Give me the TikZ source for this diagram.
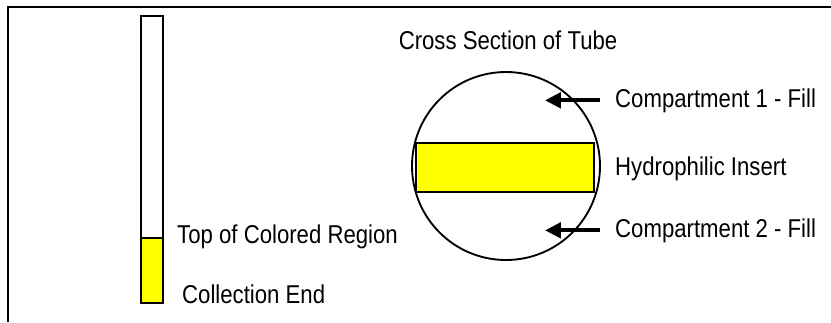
\documentclass[tikz,border=0pt]{standalone}
\usepackage{fontspec}
\setmainfont{Liberation Sans}[FakeStretch=0.86]
\usetikzlibrary{arrows.meta}
\definecolor{insertyellow}{RGB}{255,255,0}
\begin{document}
\begin{tikzpicture}[
                x=0.03cm, y=-0.03cm, % 1 unit = 1 px
                txt/.style={font=\fontsize{22}{25}\selectfont, inner ysep=0pt, inner xsep=0pt},
                pointer/.style={line width=3.2pt, -{Triangle[length=13.5pt,width=13pt]}},
            ]
            \useasboundingbox (0,0) rectangle (831,322);
            % frame
            \draw[line width=2pt] (8,322) -- (8,7) -- (831,7);
            % tube
            \fill[insertyellow] (141,238) rectangle (163,303);
            \draw[line width=2pt] (141,16) rectangle (163,303);
            \draw[line width=2pt] (141,238) -- (163,238);
            \node[txt, anchor=base west] (top) at (177,243) {Top of Colored Region};
            \node[txt, anchor=base west] (coll) at (182,303) {Collection End};
            % cross section
            \node[txt, anchor=base] (cross) at (508,49) {Cross Section of Tube};
            \draw[line width=1.6pt] (506,166) circle[radius=94];
            \draw[line width=1.6pt, fill=insertyellow] (416,143) rectangle (594,192);
            % labels and arrows
            \node[txt, anchor=base west, inner xsep=0.45cm] (comp1) at (600,107) {Compartment 1 - Fill};
            \node[txt, anchor=base west] (hydro) at (615,175) {Hydrophilic Insert};
            \node[txt, anchor=base west, inner xsep=0.45cm] (comp2) at (600,237) {Compartment 2 - Fill};
            \coordinate (tipA) at (545,98);
            \coordinate (tipB) at (545,226);
            \draw[pointer] (comp1.west) -- (tipA |- comp1.west);
            \draw[pointer] (comp2.west) -- (tipB |- comp2.west);
            \end{tikzpicture}
\end{document}
